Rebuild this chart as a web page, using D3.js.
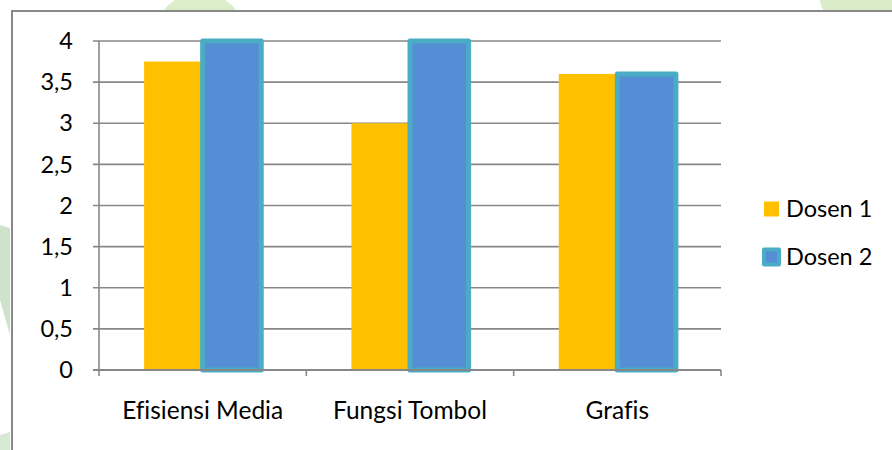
<!DOCTYPE html>
<html>
<head>
<meta charset="utf-8">
<script src="https://cdn.jsdelivr.net/npm/d3@7"></script>
<style>
  html, body { margin: 0; padding: 0; background: #fff; }
  svg { display: block; font-family: Lato, "Open Sans", sans-serif; font-variant-ligatures: none; }
</style>
</head>
<body>
<svg id="chart" width="892" height="450"></svg>
<script>
// Chart data
const categories = ["Efisiensi Media", "Fungsi Tombol", "Grafis"];
const seriesNames = ["Dosen 1", "Dosen 2"];
const dosen1 = [3.75, 3, 3.6];
const dosen2 = [4, 4, 3.6];
const yTicks = [0, 0.5, 1, 1.5, 2, 2.5, 3, 3.5, 4];
const yTickLabels = ["0", "0,5", "1", "1,5", "2", "2,5", "3", "3,5", "4"];

const seriesValues = [dosen1, dosen2];
const fills = ["#FFC000", "#558ED5"];
const strokes = [null, "#4BACC6"];
const fontSize = 23.5;
const catFontSize = 24.5;

const svg = d3.select("#chart");

// faint background decoration around the frame
const deco = svg.append("g").attr("fill", "#d6eac1").attr("opacity", 0.85);
deco.append("ellipse").attr("cx", 200).attr("cy", 35).attr("rx", 45).attr("ry", 42);
deco.append("ellipse").attr("cx", 880).attr("cy", 0).attr("rx", 60).attr("ry", 30).attr("fill", "#d3e9be");
deco.append("path").attr("d", "M0,225 L10,228 L10,335 L0,300 Z").attr("fill", "#c5e0c3");
deco.append("path").attr("d", "M0,435 L10,432 L10,450 L0,450 Z").attr("fill", "#cfe6cc");

// chart frame
svg.append("rect")
  .attr("x", 12).attr("y", 11).attr("width", 900).attr("height", 460)
  .attr("fill", "#fff").attr("stroke", "#898989").attr("stroke-width", 2);

const plotLeft = 99, plotRight = 721, plotTop = 41, plotBottom = 370;

const y = d3.scaleLinear().domain([0, 4]).range([plotBottom, plotTop]);
const x0 = d3.scaleBand().domain(categories).range([plotLeft, plotRight]).padding(0);
const x1 = d3.scaleBand().domain(seriesNames).range([0, x0.bandwidth()])
  .paddingInner(0).paddingOuter(0.77);

// gridlines and y tick marks
const grid = svg.append("g");
grid.selectAll("line").data(yTicks).join("line")
  .attr("x1", plotLeft - 6).attr("x2", plotRight)
  .attr("y1", d => y(d)).attr("y2", d => y(d))
  .attr("stroke", "#878787").attr("stroke-width", 1.6);

// y tick labels
svg.append("g").selectAll("text").data(yTicks).join("text")
  .attr("x", 73).attr("y", d => y(d)).attr("dy", "0.35em")
  .attr("text-anchor", "end").attr("font-size", fontSize).attr("fill", "#000")
  .text((d, i) => yTickLabels[i]);

// bars
const groups = svg.append("g").selectAll("g").data(categories).join("g")
  .attr("transform", d => `translate(${x0(d)},0)`);

seriesNames.forEach((s, si) => {
  groups.append("rect")
    .attr("x", x1(s))
    .attr("y", (d, i) => y(seriesValues[si][i]))
    .attr("width", x1.bandwidth())
    .attr("height", (d, i) => plotBottom - y(seriesValues[si][i]))
    .attr("fill", fills[si])
    .attr("stroke", strokes[si] || "none")
    .attr("stroke-width", strokes[si] ? 5 : 0)
    .attr("stroke-linejoin", "round");
});

// axis lines
svg.append("line").attr("x1", plotLeft).attr("x2", plotLeft).attr("y1", plotTop).attr("y2", plotBottom + 6)
  .attr("stroke", "#878787").attr("stroke-width", 1.6);
svg.append("line").attr("x1", plotLeft - 6).attr("x2", plotRight).attr("y1", plotBottom).attr("y2", plotBottom)
  .attr("stroke", "#878787").attr("stroke-width", 2);
// category boundary ticks
const bounds = categories.map(c => x0(c) + x0.bandwidth());
svg.append("g").selectAll("line").data(bounds).join("line")
  .attr("x1", d => d).attr("x2", d => d).attr("y1", plotBottom).attr("y2", plotBottom + 6)
  .attr("stroke", "#878787").attr("stroke-width", 1.6);

// category labels
svg.append("g").selectAll("text").data(categories).join("text")
  .attr("x", d => x0(d) + x0.bandwidth() / 2).attr("y", 419)
  .attr("text-anchor", "middle").attr("font-size", catFontSize).attr("fill", "#000")
  .text(d => d);

// legend
const legend = svg.append("g");
const legendY = [209, 257];
seriesNames.forEach((s, si) => {
  legend.append("rect")
    .attr("x", 764).attr("y", legendY[si] - 7.5).attr("width", 15).attr("height", 15)
    .attr("fill", fills[si])
    .attr("stroke", strokes[si] || "none")
    .attr("stroke-width", strokes[si] ? 4 : 0)
    .attr("stroke-linejoin", "round");
  legend.append("text")
    .attr("x", 786).attr("y", legendY[si]).attr("dy", "0.35em")
    .attr("font-size", fontSize).attr("fill", "#000")
    .text(s);
});
</script>
</body>
</html>
